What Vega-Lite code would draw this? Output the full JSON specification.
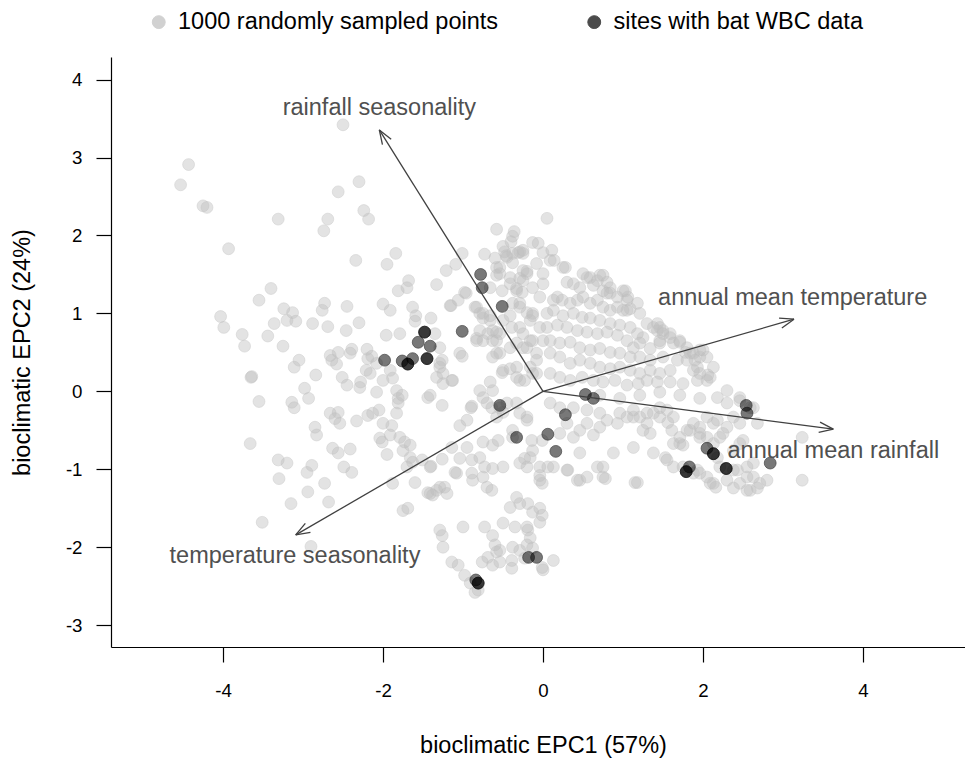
{
"$schema": "https://vega.github.io/schema/vega-lite/v6.json",
"width": 854, "height": 590,
"autosize": {"type": "none"},
"padding": {"left": 111, "top": 57, "right": 0, "bottom": 112},
"background": "white",
"config": {"view": {"stroke": null}, "font": "Liberation Sans",
 "axis": {"grid": false, "domainColor": "#000", "domainWidth": 1.2, "tickColor": "#000", "tickWidth": 1.2, "tickSize": 15, "labelFont": "Liberation Sans", "labelFontSize": 18.7, "labelColor": "#000", "titleFont": "Liberation Sans", "titleFontSize": 23.5, "titleFontWeight": "normal", "titleColor": "#000"},
 "legend": {"title": null, "orient": "none", "legendX": 36, "legendY": -47, "direction": "horizontal", "labelFontSize": 23.5, "labelFont": "Liberation Sans", "labelColor": "#000", "symbolSize": 165, "symbolType": "circle", "symbolStrokeWidth": 1, "labelOffset": 7.5, "columnPadding": 83.5, "labelLimit": 600}},
"datasets": {
"pts": [
{"g":"r","x":-2.50,"y":3.42},{"g":"r","x":-4.43,"y":2.91},{"g":"r","x":-4.53,"y":2.65},{"g":"r","x":-4.25,"y":2.38},{"g":"r","x":-4.20,"y":2.36},{"g":"r","x":-2.30,"y":2.69},{"g":"r","x":-2.56,"y":2.56},{"g":"r","x":-3.31,"y":2.21},{"g":"r","x":-2.69,"y":2.21},{"g":"r","x":-2.24,"y":2.32},{"g":"r","x":-2.18,"y":2.21},{"g":"r","x":-2.74,"y":2.06},{"g":"r","x":-3.93,"y":1.83},{"g":"r","x":-2.34,"y":1.68},{"g":"r","x":-1.84,"y":1.77},{"g":"r","x":-1.95,"y":1.63},{"g":"r","x":-0.58,"y":2.08},{"g":"r","x":-0.36,"y":2.05},{"g":"r","x":-0.38,"y":1.99},{"g":"r","x":-0.40,"y":1.92},{"g":"r","x":-1.01,"y":1.77},{"g":"r","x":-1.09,"y":1.63},{"g":"r","x":-1.21,"y":1.55},{"g":"r","x":-1.33,"y":1.37},{"g":"r","x":-0.73,"y":1.76},{"g":"r","x":-0.50,"y":1.86},{"g":"r","x":-0.48,"y":1.79},{"g":"r","x":-0.45,"y":1.72},{"g":"r","x":-0.29,"y":1.79},{"g":"r","x":-0.13,"y":1.91},{"g":"r","x":-0.06,"y":1.90},{"g":"r","x":0.05,"y":2.22},{"g":"r","x":-3.40,"y":1.32},{"g":"r","x":-3.55,"y":1.17},{"g":"r","x":-2.73,"y":1.13},{"g":"r","x":-2.76,"y":1.04},{"g":"r","x":-2.45,"y":1.09},{"g":"r","x":-3.24,"y":1.06},{"g":"r","x":-3.13,"y":1.01},{"g":"r","x":-3.20,"y":0.91},{"g":"r","x":-3.09,"y":0.90},{"g":"r","x":-3.36,"y":0.87},{"g":"r","x":-2.88,"y":0.87},{"g":"r","x":-2.69,"y":0.83},{"g":"r","x":-2.46,"y":0.78},{"g":"r","x":-2.30,"y":0.88},{"g":"r","x":-2.00,"y":1.12},{"g":"r","x":-1.91,"y":1.04},{"g":"r","x":-1.81,"y":1.29},{"g":"r","x":-1.70,"y":1.33},{"g":"r","x":-1.68,"y":1.42},{"g":"r","x":-1.63,"y":1.08},{"g":"r","x":-1.59,"y":0.97},{"g":"r","x":-1.60,"y":0.90},{"g":"r","x":-1.40,"y":0.94},{"g":"r","x":-1.15,"y":1.10},{"g":"r","x":-1.06,"y":1.17},{"g":"r","x":-0.96,"y":1.26},{"g":"r","x":-4.03,"y":0.96},{"g":"r","x":-3.99,"y":0.82},{"g":"r","x":-3.76,"y":0.73},{"g":"r","x":-3.73,"y":0.58},{"g":"r","x":-3.44,"y":0.71},{"g":"r","x":-3.25,"y":0.58},{"g":"r","x":-3.05,"y":0.40},{"g":"r","x":-3.11,"y":0.31},{"g":"r","x":-2.84,"y":0.21},{"g":"r","x":-3.65,"y":0.18},{"g":"r","x":-3.64,"y":0.19},{"g":"r","x":-2.66,"y":0.46},{"g":"r","x":-2.56,"y":0.50},{"g":"r","x":-2.64,"y":0.40},{"g":"r","x":-2.58,"y":0.35},{"g":"r","x":-2.41,"y":0.49},{"g":"r","x":-2.39,"y":0.54},{"g":"r","x":-2.20,"y":0.54},{"g":"r","x":-2.19,"y":0.42},{"g":"r","x":-2.14,"y":0.45},{"g":"r","x":-2.21,"y":0.27},{"g":"r","x":-2.16,"y":0.23},{"g":"r","x":-2.08,"y":0.36},{"g":"r","x":-1.96,"y":0.72},{"g":"r","x":-1.79,"y":0.74},{"g":"r","x":-2.00,"y":0.14},{"g":"r","x":-1.88,"y":0.17},{"g":"r","x":-1.91,"y":0.27},{"g":"r","x":-2.51,"y":0.18},{"g":"r","x":-2.45,"y":0.08},{"g":"r","x":-2.29,"y":0.05},{"g":"r","x":-2.28,"y":0.12},{"g":"r","x":-2.98,"y":0.04},{"g":"r","x":-2.08,"y":-0.01},{"g":"r","x":-1.35,"y":0.74},{"g":"r","x":-1.29,"y":0.56},{"g":"r","x":-1.26,"y":0.40},{"g":"r","x":-1.29,"y":0.31},{"g":"r","x":-1.25,"y":0.23},{"g":"r","x":-1.33,"y":0.18},{"g":"r","x":-1.25,"y":0.10},{"g":"r","x":-1.14,"y":0.14},{"g":"r","x":-1.04,"y":0.49},{"g":"r","x":-1.01,"y":0.45},{"g":"r","x":-1.41,"y":-0.05},{"g":"r","x":-1.44,"y":-0.08},{"g":"r","x":-1.26,"y":-0.18},{"g":"r","x":-0.90,"y":-0.21},{"g":"r","x":-0.79,"y":0.01},{"g":"r","x":-0.66,"y":0.12},{"g":"r","x":-0.75,"y":-0.08},{"g":"r","x":-3.55,"y":-0.13},{"g":"r","x":-3.14,"y":-0.14},{"g":"r","x":-3.11,"y":-0.21},{"g":"r","x":-2.93,"y":-0.09},{"g":"r","x":-2.66,"y":-0.28},{"g":"r","x":-2.56,"y":-0.27},{"g":"r","x":-2.60,"y":-0.35},{"g":"r","x":-2.54,"y":-0.41},{"g":"r","x":-2.33,"y":-0.38},{"g":"r","x":-2.19,"y":-0.31},{"g":"r","x":-2.13,"y":-0.28},{"g":"r","x":-2.05,"y":-0.24},{"g":"r","x":-2.00,"y":-0.41},{"g":"r","x":-1.89,"y":-0.44},{"g":"r","x":-1.83,"y":-0.28},{"g":"r","x":-1.81,"y":-0.15},{"g":"r","x":-1.76,"y":-0.05},{"g":"r","x":-2.85,"y":-0.46},{"g":"r","x":-2.83,"y":-0.56},{"g":"r","x":-1.04,"y":-0.44},{"g":"r","x":-0.95,"y":-0.37},{"g":"r","x":-0.70,"y":-0.15},{"g":"r","x":-0.64,"y":-0.21},{"g":"r","x":-0.58,"y":-0.33},{"g":"r","x":-0.50,"y":-0.27},
{"g":"r","x":-0.83,"y":1.08},{"g":"r","x":-0.75,"y":1.00},{"g":"r","x":-0.66,"y":0.91},{"g":"r","x":-0.63,"y":0.78},{"g":"r","x":-0.58,"y":0.65},{"g":"r","x":-0.75,"y":0.65},{"g":"r","x":-0.83,"y":0.65},{"g":"r","x":-0.63,"y":0.44},{"g":"r","x":-0.54,"y":0.49},{"g":"r","x":-0.50,"y":0.27},{"g":"r","x":-0.33,"y":0.31},{"g":"r","x":-0.29,"y":0.14},{"g":"r","x":-0.13,"y":0.23},{"g":"r","x":-0.08,"y":0.40},{"g":"r","x":-0.25,"y":0.56},{"g":"r","x":-0.16,"y":0.65},{"g":"r","x":-0.25,"y":0.74},{"g":"r","x":-0.13,"y":1.00},{"g":"r","x":-0.04,"y":1.21},{"g":"r","x":-0.29,"y":1.13},{"g":"r","x":-0.33,"y":1.29},{"g":"r","x":-0.25,"y":1.42},{"g":"r","x":-0.41,"y":1.46},{"g":"r","x":-0.54,"y":1.51},{"g":"r","x":-0.58,"y":1.59},{"g":"r","x":-0.38,"y":1.77},{"g":"r","x":-0.25,"y":1.77},{"g":"r","x":-0.20,"y":1.51},{"g":"r","x":-0.13,"y":1.33},{"g":"r","x":0.00,"y":1.51},{"g":"r","x":-0.04,"y":0.82},{"g":"r","x":0.00,"y":0.65},{"g":"r","x":0.05,"y":1.00},{"g":"r","x":-0.46,"y":1.74},{"g":"r","x":-0.31,"y":1.78},{"g":"r","x":-0.25,"y":1.81},{"g":"r","x":-0.60,"y":1.71},{"g":"r","x":-0.54,"y":1.59},{"g":"r","x":-0.38,"y":1.65},{"g":"r","x":0.00,"y":1.78},{"g":"r","x":0.11,"y":1.81},{"g":"r","x":0.14,"y":1.68},{"g":"r","x":0.28,"y":1.59},{"g":"r","x":-0.20,"y":1.54},{"g":"r","x":-0.29,"y":1.45},{"g":"r","x":-0.41,"y":1.38},{"g":"r","x":-0.58,"y":1.49},{"g":"r","x":-0.66,"y":1.33},{"g":"r","x":-0.51,"y":1.29},{"g":"r","x":-0.33,"y":1.32},{"g":"r","x":-0.26,"y":1.27},{"g":"r","x":-0.98,"y":1.27},{"g":"r","x":-1.16,"y":1.10},{"g":"r","x":-0.85,"y":1.08},{"g":"r","x":-0.79,"y":1.00},{"g":"r","x":-0.75,"y":0.94},{"g":"r","x":-0.66,"y":0.97},{"g":"r","x":-0.38,"y":1.13},{"g":"r","x":-0.29,"y":1.08},{"g":"r","x":-0.20,"y":1.01},{"g":"r","x":-0.41,"y":0.97},{"g":"r","x":-0.50,"y":0.91},{"g":"r","x":-0.39,"y":0.82},{"g":"r","x":-0.29,"y":0.82},{"g":"r","x":-0.16,"y":0.91},{"g":"r","x":-0.13,"y":0.97},{"g":"r","x":-0.83,"y":0.68},{"g":"r","x":-0.79,"y":0.78},{"g":"r","x":-0.69,"y":0.74},{"g":"r","x":-0.58,"y":0.76},{"g":"r","x":-0.63,"y":0.65},{"g":"r","x":-0.54,"y":0.74},{"g":"r","x":-0.58,"y":0.49},{"g":"r","x":-0.41,"y":0.56},{"g":"r","x":-0.33,"y":0.62},{"g":"r","x":-0.20,"y":0.56},{"g":"r","x":-0.13,"y":0.65},{"g":"r","x":-0.08,"y":0.49},{"g":"r","x":-1.29,"y":0.36},{"g":"r","x":-1.13,"y":0.14},{"g":"r","x":-0.51,"y":0.24},{"g":"r","x":-0.41,"y":0.29},{"g":"r","x":-0.33,"y":0.18},{"g":"r","x":-0.23,"y":0.14},{"g":"r","x":-0.16,"y":0.31},{"g":"r","x":-0.08,"y":0.23},{"g":"r","x":-0.63,"y":0.01},
{"g":"r","x":0.30,"y":1.40},{"g":"r","x":0.38,"y":1.38},{"g":"r","x":0.55,"y":1.46},{"g":"r","x":0.68,"y":1.42},{"g":"r","x":0.75,"y":1.49},{"g":"r","x":0.84,"y":1.33},{"g":"r","x":1.03,"y":1.29},{"g":"r","x":1.06,"y":1.21},{"g":"r","x":0.93,"y":1.21},{"g":"r","x":0.80,"y":1.26},{"g":"r","x":0.18,"y":1.21},{"g":"r","x":0.24,"y":1.17},{"g":"r","x":0.34,"y":1.13},{"g":"r","x":0.43,"y":1.17},{"g":"r","x":0.50,"y":1.21},{"g":"r","x":0.59,"y":1.13},{"g":"r","x":0.68,"y":1.17},{"g":"r","x":0.75,"y":1.08},{"g":"r","x":0.84,"y":1.04},{"g":"r","x":0.93,"y":1.08},{"g":"r","x":1.00,"y":1.04},{"g":"r","x":1.09,"y":1.06},{"g":"r","x":0.13,"y":1.04},{"g":"r","x":0.25,"y":0.97},{"g":"r","x":0.38,"y":1.00},{"g":"r","x":0.49,"y":0.95},{"g":"r","x":0.59,"y":0.94},{"g":"r","x":0.71,"y":0.91},{"g":"r","x":0.84,"y":0.87},{"g":"r","x":0.96,"y":0.85},{"g":"r","x":1.09,"y":0.82},{"g":"r","x":1.18,"y":0.74},{"g":"r","x":1.25,"y":0.69},{"g":"r","x":0.05,"y":0.82},{"g":"r","x":0.18,"y":0.85},{"g":"r","x":0.30,"y":0.82},{"g":"r","x":0.43,"y":0.78},{"g":"r","x":0.55,"y":0.76},{"g":"r","x":0.68,"y":0.74},{"g":"r","x":0.80,"y":0.76},{"g":"r","x":0.93,"y":0.72},{"g":"r","x":1.05,"y":0.65},{"g":"r","x":1.13,"y":0.56},{"g":"r","x":1.21,"y":0.62},{"g":"r","x":1.34,"y":0.55},{"g":"r","x":1.46,"y":0.62},{"g":"r","x":1.46,"y":0.82},{"g":"r","x":1.50,"y":0.78},{"g":"r","x":1.59,"y":0.74},{"g":"r","x":1.71,"y":0.63},{"g":"r","x":1.80,"y":0.40},{"g":"r","x":1.84,"y":0.49},{"g":"r","x":1.93,"y":0.31},{"g":"r","x":1.96,"y":0.44},{"g":"r","x":2.05,"y":0.14},{"g":"r","x":0.09,"y":0.65},{"g":"r","x":0.21,"y":0.62},{"g":"r","x":0.34,"y":0.63},{"g":"r","x":0.46,"y":0.56},{"g":"r","x":0.59,"y":0.53},{"g":"r","x":0.71,"y":0.55},{"g":"r","x":0.84,"y":0.50},{"g":"r","x":0.96,"y":0.49},{"g":"r","x":1.09,"y":0.44},{"g":"r","x":1.21,"y":0.44},{"g":"r","x":1.34,"y":0.40},{"g":"r","x":1.50,"y":0.44},{"g":"r","x":1.68,"y":0.40},{"g":"r","x":0.09,"y":0.49},{"g":"r","x":0.21,"y":0.44},{"g":"r","x":0.34,"y":0.36},{"g":"r","x":0.46,"y":0.40},{"g":"r","x":0.59,"y":0.36},{"g":"r","x":0.71,"y":0.31},{"g":"r","x":0.84,"y":0.29},{"g":"r","x":0.96,"y":0.31},{"g":"r","x":1.09,"y":0.27},{"g":"r","x":1.21,"y":0.23},{"g":"r","x":1.34,"y":0.27},{"g":"r","x":1.46,"y":0.23},{"g":"r","x":1.59,"y":0.27},{"g":"r","x":0.09,"y":0.23},{"g":"r","x":0.21,"y":0.18},{"g":"r","x":0.34,"y":0.14},{"g":"r","x":0.49,"y":0.18},{"g":"r","x":0.63,"y":0.14},{"g":"r","x":0.75,"y":0.12},{"g":"r","x":0.90,"y":0.14},{"g":"r","x":1.05,"y":0.08},{"g":"r","x":1.19,"y":0.10},{"g":"r","x":1.30,"y":0.14},{"g":"r","x":1.43,"y":0.12},{"g":"r","x":1.59,"y":0.12},{"g":"r","x":1.75,"y":0.10},{"g":"r","x":1.93,"y":0.14},{"g":"r","x":-0.25,"y":1.55},{"g":"r","x":-0.08,"y":1.64},{"g":"r","x":0.09,"y":1.68},{"g":"r","x":0.25,"y":1.59},{"g":"r","x":0.00,"y":1.38},{"g":"r","x":0.13,"y":1.17},{"g":"r","x":0.50,"y":1.51},{"g":"r","x":0.59,"y":1.46},{"g":"r","x":0.71,"y":1.49},{"g":"r","x":0.46,"y":1.33},{"g":"r","x":0.63,"y":1.36},{"g":"r","x":0.80,"y":1.40},{"g":"r","x":0.75,"y":1.29},{"g":"r","x":0.84,"y":1.26},{"g":"r","x":1.00,"y":1.29},{"g":"r","x":1.05,"y":1.17},{"g":"r","x":1.18,"y":1.13},{"g":"r","x":1.21,"y":1.00},{"g":"r","x":1.05,"y":1.04},{"g":"r","x":1.30,"y":0.87},{"g":"r","x":1.38,"y":0.82},{"g":"r","x":1.43,"y":0.78},{"g":"r","x":1.50,"y":0.74},{"g":"r","x":1.46,"y":0.65},{"g":"r","x":1.59,"y":0.69},{"g":"r","x":1.63,"y":0.62},{"g":"r","x":1.71,"y":0.65},{"g":"r","x":1.80,"y":0.56},{"g":"r","x":1.88,"y":0.49},{"g":"r","x":1.96,"y":0.53},{"g":"r","x":2.05,"y":0.44},{"g":"r","x":2.13,"y":0.31},{"g":"r","x":2.09,"y":0.18},{"g":"r","x":1.96,"y":0.23},{"g":"r","x":1.88,"y":0.27},{"g":"r","x":1.78,"y":0.50},{"g":"r","x":1.90,"y":0.40},{"g":"r","x":2.00,"y":0.53},{"g":"r","x":2.06,"y":0.21},{"g":"r","x":2.30,"y":0.01},{"g":"r","x":2.46,"y":-0.12},{"g":"r","x":2.63,"y":-0.21},{"g":"r","x":2.68,"y":-0.41},{"g":"r","x":1.43,"y":0.87},{"g":"r","x":0.71,"y":-0.05},{"g":"r","x":0.96,"y":-0.09},{"g":"r","x":1.21,"y":-0.05},{"g":"r","x":1.46,"y":-0.01},{"g":"r","x":1.71,"y":-0.05},{"g":"r","x":1.96,"y":-0.09},
{"g":"r","x":2.18,"y":-0.08},{"g":"r","x":2.30,"y":-0.15},{"g":"r","x":2.46,"y":-0.08},{"g":"r","x":2.59,"y":-0.21},{"g":"r","x":2.46,"y":-0.41},{"g":"r","x":2.38,"y":-0.33},{"g":"r","x":2.30,"y":-0.46},{"g":"r","x":2.18,"y":-0.37},{"g":"r","x":2.05,"y":-0.33},{"g":"r","x":1.96,"y":-0.46},{"g":"r","x":1.88,"y":-0.41},{"g":"r","x":1.80,"y":-0.50},{"g":"r","x":1.71,"y":-0.59},{"g":"r","x":1.63,"y":-0.67},{"g":"r","x":1.96,"y":-0.59},{"g":"r","x":2.05,"y":-0.59},{"g":"r","x":2.13,"y":-0.67},{"g":"r","x":2.38,"y":-0.76},{"g":"r","x":2.18,"y":-0.85},{"g":"r","x":2.21,"y":-0.97},{"g":"r","x":2.38,"y":-1.01},{"g":"r","x":2.55,"y":-0.97},{"g":"r","x":2.63,"y":-1.10},{"g":"r","x":2.71,"y":-1.18},{"g":"r","x":2.80,"y":-1.14},{"g":"r","x":2.63,"y":-0.92},{"g":"r","x":2.46,"y":-1.18},{"g":"r","x":2.30,"y":-1.14},{"g":"r","x":2.13,"y":-1.18},{"g":"r","x":2.05,"y":-1.10},{"g":"r","x":1.96,"y":-1.05},{"g":"r","x":3.24,"y":-0.59},{"g":"r","x":3.24,"y":-1.14},{"g":"r","x":0.88,"y":-0.79},{"g":"r","x":0.75,"y":-0.97},{"g":"r","x":0.46,"y":-0.79},{"g":"r","x":0.30,"y":-1.01},{"g":"r","x":0.13,"y":-0.97},{"g":"r","x":0.43,"y":-1.14},{"g":"r","x":0.55,"y":-1.10},{"g":"r","x":0.75,"y":-1.10},{"g":"r","x":1.18,"y":-1.17},{"g":"r","x":1.38,"y":-0.79},{"g":"r","x":1.55,"y":-0.88},{"g":"r","x":1.25,"y":-0.50},{"g":"r","x":1.34,"y":-0.54},{"g":"r","x":1.13,"y":-0.72},{"g":"r","x":1.63,"y":-0.97},{"g":"r","x":1.75,"y":-0.97},{"g":"r","x":1.88,"y":-1.05},{"g":"r","x":-0.45,"y":-0.15},{"g":"r","x":-0.29,"y":-0.28},{"g":"r","x":-0.20,"y":-0.37},{"g":"r","x":-0.38,"y":-0.59},{"g":"r","x":-0.13,"y":-0.76},{"g":"r","x":-0.16,"y":-0.85},{"g":"r","x":-0.04,"y":-0.97},{"g":"r","x":-0.04,"y":-1.14},{"g":"r","x":-0.29,"y":-0.92},{"g":"r","x":0.09,"y":-0.15},{"g":"r","x":0.21,"y":-0.21},{"g":"r","x":0.38,"y":-0.21},{"g":"r","x":0.55,"y":-0.24},{"g":"r","x":0.71,"y":-0.28},{"g":"r","x":0.80,"y":-0.37},{"g":"r","x":0.93,"y":-0.41},{"g":"r","x":1.05,"y":-0.33},{"g":"r","x":1.13,"y":-0.24},{"g":"r","x":1.21,"y":-0.33},{"g":"r","x":1.30,"y":-0.41},{"g":"r","x":1.38,"y":-0.28},{"g":"r","x":1.46,"y":-0.21},{"g":"r","x":1.55,"y":-0.24},{"g":"r","x":1.63,"y":-0.33},{"g":"r","x":0.71,"y":-0.46},{"g":"r","x":0.55,"y":-0.41},{"g":"r","x":0.30,"y":-0.41},{"g":"r","x":0.21,"y":-0.54},{"g":"r","x":0.38,"y":-0.59},{"g":"r","x":0.46,"y":-0.50},{"g":"r","x":1.71,"y":-0.67},{"g":"r","x":1.75,"y":-0.69},{"g":"r","x":2.21,"y":-0.59},{"g":"r","x":2.46,"y":-0.67},{"g":"r","x":2.50,"y":-0.63},{"g":"r","x":1.53,"y":-0.85},{"g":"r","x":0.78,"y":-1.12},{"g":"r","x":2.09,"y":-1.18},{"g":"r","x":2.16,"y":-1.23},{"g":"r","x":2.38,"y":-1.24},{"g":"r","x":2.55,"y":-1.27},{"g":"r","x":2.55,"y":-1.10},{"g":"r","x":2.43,"y":-1.01},{"g":"r","x":1.93,"y":-1.01},{"g":"r","x":1.84,"y":-0.50},{"g":"r","x":1.96,"y":-0.54},{"g":"r","x":2.13,"y":-0.41},{"g":"r","x":2.25,"y":-0.54},{"g":"r","x":1.61,"y":-0.50},{"g":"r","x":1.56,"y":-0.40},{"g":"r","x":1.46,"y":-0.33},{"g":"r","x":1.30,"y":-0.28},{"g":"r","x":1.13,"y":-0.33},{"g":"r","x":0.96,"y":-0.28},{"g":"r","x":2.59,"y":-1.27},{"g":"r","x":2.68,"y":-1.24},
{"g":"r","x":-1.88,"y":-1.18},{"g":"r","x":-1.60,"y":-1.17},{"g":"r","x":-1.41,"y":-0.97},{"g":"r","x":-1.33,"y":-1.27},{"g":"r","x":-1.41,"y":-1.31},{"g":"r","x":-1.23,"y":-1.23},{"g":"r","x":-1.20,"y":-1.31},{"g":"r","x":-1.08,"y":-1.05},{"g":"r","x":-0.89,"y":-1.05},{"g":"r","x":-0.88,"y":-1.14},{"g":"r","x":-0.75,"y":-1.10},{"g":"r","x":-0.70,"y":-1.23},{"g":"r","x":-0.64,"y":-1.27},{"g":"r","x":-0.63,"y":-0.99},{"g":"r","x":-0.50,"y":-0.97},{"g":"r","x":-0.20,"y":-0.97},{"g":"r","x":-0.04,"y":-1.08},{"g":"r","x":-0.01,"y":-1.18},{"g":"r","x":0.06,"y":-0.97},{"g":"r","x":0.31,"y":-1.01},{"g":"r","x":0.46,"y":-1.14},{"g":"r","x":1.15,"y":-1.17},{"g":"r","x":-1.75,"y":-1.53},{"g":"r","x":-1.69,"y":-1.50},{"g":"r","x":-1.29,"y":-1.78},{"g":"r","x":-1.26,"y":-1.85},{"g":"r","x":-1.25,"y":-2.00},{"g":"r","x":-1.00,"y":-1.74},{"g":"r","x":-0.73,"y":-1.74},{"g":"r","x":-0.63,"y":-1.85},{"g":"r","x":-0.60,"y":-1.97},{"g":"r","x":-0.58,"y":-2.06},{"g":"r","x":-0.69,"y":-2.13},{"g":"r","x":-0.76,"y":-2.19},{"g":"r","x":-0.63,"y":-2.23},{"g":"r","x":-1.14,"y":-2.19},{"g":"r","x":-1.06,"y":-2.23},{"g":"r","x":-0.98,"y":-2.36},{"g":"r","x":-0.91,"y":-2.46},{"g":"r","x":-0.85,"y":-2.58},{"g":"r","x":-0.81,"y":-2.55},{"g":"r","x":-0.50,"y":-1.69},{"g":"r","x":-0.35,"y":-1.74},{"g":"r","x":-0.20,"y":-1.74},{"g":"r","x":-0.19,"y":-1.78},{"g":"r","x":-0.16,"y":-1.88},{"g":"r","x":-0.41,"y":-1.49},{"g":"r","x":-0.33,"y":-1.36},{"g":"r","x":-0.29,"y":-1.44},{"g":"r","x":-0.19,"y":-1.44},{"g":"r","x":-0.13,"y":-1.55},{"g":"r","x":-0.04,"y":-1.50},{"g":"r","x":-0.01,"y":-1.59},{"g":"r","x":-0.04,"y":-1.68},{"g":"r","x":-0.38,"y":-2.00},{"g":"r","x":-0.29,"y":-2.04},{"g":"r","x":-0.20,"y":-1.97},{"g":"r","x":-0.13,"y":-2.01},{"g":"r","x":-0.39,"y":-2.17},{"g":"r","x":-0.39,"y":-2.27},{"g":"r","x":-0.23,"y":-2.14},{"g":"r","x":-0.01,"y":-2.26},{"g":"r","x":0.00,"y":-2.29},{"g":"r","x":0.13,"y":-2.17},{"g":"r","x":-0.54,"y":-2.04},{"g":"r","x":-0.54,"y":-2.19},
{"g":"r","x":-3.66,"y":-0.67},{"g":"r","x":-3.31,"y":-0.88},{"g":"r","x":-3.20,"y":-0.92},{"g":"r","x":-3.30,"y":-1.12},{"g":"r","x":-2.95,"y":-1.04},{"g":"r","x":-2.89,"y":-0.95},{"g":"r","x":-2.73,"y":-1.18},{"g":"r","x":-3.15,"y":-1.44},{"g":"r","x":-2.94,"y":-1.29},{"g":"r","x":-2.68,"y":-1.42},{"g":"r","x":-3.51,"y":-1.68},{"g":"r","x":-2.90,"y":-1.99},{"g":"r","x":-2.63,"y":-0.73},{"g":"r","x":-2.56,"y":-0.79},{"g":"r","x":-2.41,"y":-0.74},{"g":"r","x":-2.49,"y":-0.97},{"g":"r","x":-2.39,"y":-1.04},{"g":"r","x":-1.81,"y":-0.09},{"g":"r","x":-1.83,"y":0.01},{"g":"r","x":-2.04,"y":-0.60},{"g":"r","x":-2.01,"y":-0.65},{"g":"r","x":-1.91,"y":-0.56},{"g":"r","x":-1.79,"y":-0.59},{"g":"r","x":-1.73,"y":-0.65},{"g":"r","x":-1.66,"y":-0.69},{"g":"r","x":-1.75,"y":-0.76},{"g":"r","x":-1.66,"y":-0.85},{"g":"r","x":-1.63,"y":-0.91},{"g":"r","x":-1.70,"y":-0.97},{"g":"r","x":-1.95,"y":-0.81},{"g":"r","x":-1.51,"y":-0.88},{"g":"r","x":-1.40,"y":-0.96},{"g":"r","x":-1.26,"y":-0.87},{"g":"r","x":-1.14,"y":-0.72},{"g":"r","x":-1.04,"y":-0.86},{"g":"r","x":-0.89,"y":-0.88},{"g":"r","x":-0.79,"y":-0.85},{"g":"r","x":-0.73,"y":-0.97},{"g":"r","x":-1.10,"y":-1.04},{"g":"r","x":-0.56,"y":-0.63},{"g":"r","x":-0.63,"y":-0.69},{"g":"r","x":-0.75,"y":-0.65},{"g":"r","x":-0.95,"y":-0.72},{"g":"r","x":-0.89,"y":-0.19},{"g":"r","x":-0.54,"y":-0.21},{"g":"r","x":-0.33,"y":-0.15},{"g":"r","x":-0.20,"y":-0.33},{"g":"r","x":-0.38,"y":-0.50},{"g":"r","x":-0.14,"y":-0.63},{"g":"r","x":-0.01,"y":-0.63},{"g":"r","x":-0.23,"y":-0.86},{"g":"r","x":0.63,"y":-0.56},{"g":"r","x":0.68,"y":-0.97},{"g":"r","x":-1.44,"y":-1.30},{"g":"r","x":-1.38,"y":-1.33},{"g":"r","x":-1.29,"y":-1.23},
{"g":"s","x":-0.78,"y":1.50},{"g":"s","x":-0.76,"y":1.33},{"g":"s","x":-0.51,"y":1.09},{"g":"s","x":-1.01,"y":0.77},{"g":"s","x":-1.48,"y":0.76},{"g":"s","x":-1.48,"y":0.76},{"g":"s","x":-1.56,"y":0.63},{"g":"s","x":-1.41,"y":0.58},{"g":"s","x":-1.98,"y":0.40},{"g":"s","x":-1.76,"y":0.39},{"g":"s","x":-1.63,"y":0.42},{"g":"s","x":-1.69,"y":0.35},{"g":"s","x":-1.69,"y":0.35},{"g":"s","x":-1.45,"y":0.42},{"g":"s","x":-1.45,"y":0.42},{"g":"s","x":-0.54,"y":-0.18},{"g":"s","x":-0.33,"y":-0.59},{"g":"s","x":0.06,"y":-0.55},{"g":"s","x":0.16,"y":-0.77},{"g":"s","x":0.28,"y":-0.30},{"g":"s","x":0.53,"y":-0.04},{"g":"s","x":0.63,"y":-0.09},{"g":"s","x":2.54,"y":-0.18},{"g":"s","x":2.55,"y":-0.28},{"g":"s","x":2.05,"y":-0.73},{"g":"s","x":2.13,"y":-0.80},{"g":"s","x":2.13,"y":-0.80},{"g":"s","x":1.83,"y":-0.97},{"g":"s","x":1.79,"y":-1.03},{"g":"s","x":1.79,"y":-1.03},{"g":"s","x":2.29,"y":-0.99},{"g":"s","x":2.29,"y":-0.99},{"g":"s","x":2.84,"y":-0.92},{"g":"s","x":-0.84,"y":-2.42},{"g":"s","x":-0.81,"y":-2.46},{"g":"s","x":-0.81,"y":-2.46},{"g":"s","x":-0.18,"y":-2.13},{"g":"s","x":-0.08,"y":-2.13}
],
"arrows": [
{"x":0,"y":0,"x2":-2.046,"y2":3.354},{"x":-2.046,"y":3.354,"x2":-2.007,"y2":3.166},{"x":-2.046,"y":3.354,"x2":-1.898,"y2":3.236},
{"x":0,"y":0,"x2":3.1375,"y2":0.926},{"x":3.1375,"y":0.926,"x2":2.951,"y2":0.939},{"x":3.1375,"y":0.926,"x2":2.986,"y2":0.813},
{"x":0,"y":0,"x2":3.629,"y2":-0.484},{"x":3.629,"y":-0.484,"x2":3.463,"y2":-0.395},{"x":3.629,"y":-0.484,"x2":3.446,"y2":-0.526},
{"x":0,"y":0,"x2":-3.091,"y2":-1.842},{"x":-3.091,"y":-1.842,"x2":-2.907,"y2":-1.808},{"x":-3.091,"y":-1.842,"x2":-2.971,"y2":-1.694}
],
"labels": [
{"x":-2.046,"y":3.63,"label":"rainfall seasonality"},
{"x":3.121,"y":1.198,"label":"annual mean temperature"},
{"x":3.629,"y":-0.765,"label":"annual mean rainfall"},
{"x":-3.10,"y":-2.112,"label":"temperature seasonality"}
]
},
"layer": [
{"data": {"name": "pts"},
 "mark": {"type": "circle", "size": 140, "strokeWidth": 1},
 "encoding": {
  "x": {"field": "x", "type": "quantitative", "title": "bioclimatic EPC1 (57%)", "scale": {"domain": [-5.4, 5.275], "nice": false, "zero": false},
   "axis": {"values": [-4, -2, 0, 2, 4], "labelPadding": 19, "labelExpr": "datum.value < 0 ? '-' + abs(datum.value) : '' + datum.value", "titleX": 432, "titleY": 105, "titleAlign": "center", "titleBaseline": "alphabetic"}},
  "y": {"field": "y", "type": "quantitative", "title": "bioclimatic EPC2 (24%)", "scale": {"domain": [-3.28, 4.29], "nice": false, "zero": false},
   "axis": {"values": [-3, -2, -1, 0, 1, 2, 3, 4], "labelPadding": 14, "labelExpr": "datum.value < 0 ? '-' + abs(datum.value) : '' + datum.value", "titleAngle": -90, "titleX": -82, "titleY": 295, "titleAlign": "center", "titleBaseline": "alphabetic"}},
  "fill": {"field": "g", "type": "nominal", "scale": {"domain": ["r", "s"], "range": ["#bebebe", "#000000"]},
   "legend": {"labelExpr": "datum.label == 'r' ? '1000 randomly sampled points' : 'sites with bat WBC data'"}},
  "stroke": {"field": "g", "type": "nominal", "scale": {"domain": ["r", "s"], "range": ["#bebebe", "#000000"]},
   "legend": {"labelExpr": "datum.label == 'r' ? '1000 randomly sampled points' : 'sites with bat WBC data'"}},
  "fillOpacity": {"field": "g", "type": "nominal", "scale": {"domain": ["r", "s"], "range": [0.6, 0.75]},
   "legend": {"labelExpr": "datum.label == 'r' ? '1000 randomly sampled points' : 'sites with bat WBC data'"}},
  "strokeOpacity": {"field": "g", "type": "nominal", "scale": {"domain": ["r", "s"], "range": [0.6, 0.75]},
   "legend": {"labelExpr": "datum.label == 'r' ? '1000 randomly sampled points' : 'sites with bat WBC data'"}}
 }},
{"mark": {"type": "rule", "color": "#000", "strokeWidth": 1.3, "strokeDash": [8, 5]}, "encoding": {"x": {"datum": 0}}},
{"mark": {"type": "rule", "color": "#000", "strokeWidth": 1.3, "strokeDash": [8, 5]}, "encoding": {"y": {"datum": 0}}},
{"mark": {"type": "rule", "color": "#000", "strokeWidth": 1.2}, "encoding": {"y": {"datum": 4.29}}},
{"data": {"name": "arrows"},
 "mark": {"type": "rule", "color": "#404040", "strokeWidth": 1.3},
 "encoding": {
  "x": {"field": "x", "type": "quantitative", "title": "bioclimatic EPC1 (57%)"},
  "y": {"field": "y", "type": "quantitative", "title": "bioclimatic EPC2 (24%)"},
  "x2": {"field": "x2"}, "y2": {"field": "y2"}}},
{"data": {"name": "labels"},
 "mark": {"type": "text", "fontSize": 23.5, "font": "Liberation Sans", "color": "#505050", "align": "center", "baseline": "middle"},
 "encoding": {
  "x": {"field": "x", "type": "quantitative", "title": "bioclimatic EPC1 (57%)"},
  "y": {"field": "y", "type": "quantitative", "title": "bioclimatic EPC2 (24%)"},
  "text": {"field": "label"}}}
]
}
